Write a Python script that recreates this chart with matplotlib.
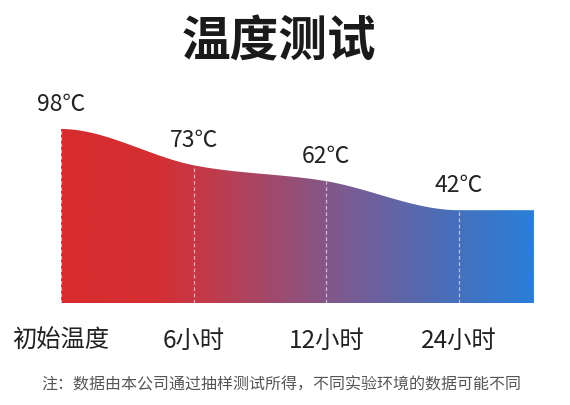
import numpy as np
import matplotlib
matplotlib.use('Agg')
import matplotlib.pyplot as plt
from matplotlib.colors import LinearSegmentedColormap

plt.rcParams['font.family'] = ['Noto Sans CJK SC', 'DejaVu Sans']

# data
stages = ['初始温度', '6小时', '12小时', '24小时']
temps = [98, 73, 62, 42]
value_labels = ['98℃', '73℃', '62℃', '42℃']
title = '温度测试'
note = '注：数据由本公司通过抽样测试所得，不同实验环境的数据可能不同'

x_right = 3.565  # area runs a bit past the last point
y_low, y_high = -22, 118

# smooth curve (hermite, flat at the ends)
xs = np.array(list(range(len(temps))) + [x_right], dtype=float)
ys = np.array(temps + [temps[-1]], dtype=float)
m = np.zeros_like(ys)
for i in range(1, len(temps) - 1):
    m[i] = (ys[i + 1] - ys[i - 1]) / (xs[i + 1] - xs[i - 1])

cx, cy = [], []
for i in range(len(xs) - 1):
    h = xs[i + 1] - xs[i]
    t = np.linspace(0, 1, 80)
    h00 = 2 * t**3 - 3 * t**2 + 1
    h10 = t**3 - 2 * t**2 + t
    h01 = -2 * t**3 + 3 * t**2
    h11 = t**3 - t**2
    cx.append(xs[i] + t * h)
    cy.append(h00 * ys[i] + h10 * h * m[i] + h01 * ys[i + 1] + h11 * h * m[i + 1])
cx = np.concatenate(cx)
cy = np.concatenate(cy)

fig = plt.figure(figsize=(5.7, 4.05), dpi=100)
ax = fig.add_axes([61 / 570, 102 / 405, 473 / 570, 203 / 405])
ax.set_xlim(0, x_right)
ax.set_ylim(y_low, y_high)

# gradient fill clipped to the area
cmap = LinearSegmentedColormap.from_list('temp', [
    (0.0, '#d72c2e'), (0.2, '#d42f33'), (0.31, '#c23a4a'),
    (0.6, '#7b5b91'), (0.84, '#4570bd'), (1.0, '#2a7fd8')])
grad = np.linspace(0, 1, 512).reshape(1, -1)
im = ax.imshow(grad, cmap=cmap, aspect='auto', extent=[0, x_right, y_low, y_high], zorder=1)
poly = ax.fill_between(cx, y_low, cy, color='none', lw=0)
path = poly.get_paths()[0]
im.set_clip_path(path, transform=ax.transData)

# dashed guide lines
for i, v in enumerate(temps):
    ax.plot([i, i], [y_low, v], color='white', lw=0.9, ls=(0, (3, 2)), alpha=0.6, zorder=2)
ax.plot([x_right, x_right], [y_low, temps[-1]], color='white', lw=0.9, ls=(0, (3, 2)), alpha=0.6, zorder=2)

for i, (v, lab) in enumerate(zip(temps, value_labels)):
    ax.annotate(lab, (i, v), xytext=(0, 13), textcoords='offset points',
                ha='center', va='baseline', fontsize=16.5, color='#222222')

ax.set_xticks(range(len(stages)))
ax.set_xticklabels(stages, fontsize=17.5, color='#222222')
ax.tick_params(axis='x', length=0, pad=18)
ax.set_yticks([])
for s in ax.spines.values():
    s.set_visible(False)

fig.text(0.49, 1 - 42 / 405, title, ha='center', va='center', fontsize=35,
         fontweight='bold', color='#1a1a1a')
fig.text(0.493, 20 / 405, note, ha='center', va='center', fontsize=11.5, color='#555555')

fig.savefig('out.png', dpi=100)
